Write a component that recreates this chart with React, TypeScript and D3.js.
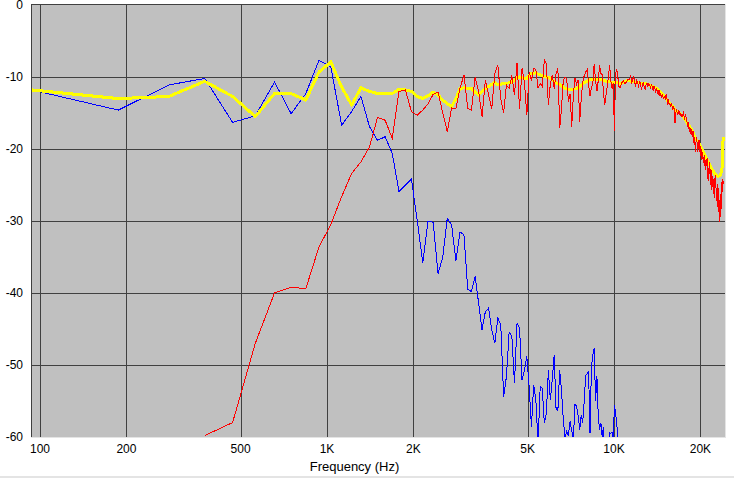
import React from "react";
import * as d3 from "d3";

// FFT bin grid (48 kHz / 512 points)
const BIN_HZ = 93.75;

// blue: bins 1..120
const BLUE_DB = [
  -11.8, -14.6, -11.1, -10.2, -16.3, -15.4, -10.7, -15.1, -12.3, -7.7,
  -8.6, -16.7, -14.8, -12.7, -16.9, -18.8, -18.3, -20.6, -25.9, -25.0,
  -24.2, -29.9, -35.8, -30.0, -30.2, -37.3, -35.0, -29.6, -30.6, -35.5,
  -31.5, -31.9, -39.5, -39.8, -37.7, -41.4, -45.1, -42.6, -42.1, -45.1,
  -47.0, -43.5, -44.4, -54.4, -51.6, -45.4, -46.0, -52.5, -44.2, -44.9,
  -52.1, -50.7, -48.8, -53.0, -58.6, -52.8, -54.9, -61.0, -53.0, -53.2,
  -58.1, -56.7, -50.7, -54.9, -52.0, -48.6, -56.0, -56.3, -50.7, -53.5,
  -57.6, -60.0, -59.2, -59.8, -57.8, -59.2, -60.2, -55.5, -55.7, -57.0,
  -59.0, -57.0, -58.0, -55.0, -51.5, -51.2, -50.9, -59.5, -50.2, -48.6,
  -47.7, -55.0, -51.6, -57.0, -59.0, -58.0, -60.0, -58.6, -62.0, -63.0,
  -62.0, -61.0, -59.4, -59.5, -59.3, -61.0, -55.6, -56.5, -58.2, -59.7,
  -62.0, -64.0, -63.0, -66.0, -64.0, -67.0, -65.0, -68.0, -66.0, -69.0,
];

// red: bins 4..256
const RED_FIRST_BIN = 4;
const RED_DB = [
  -59.8, -58, -47, -40, -39.2, -39.4, -33.6, -30.5, -26.6, -23.4,
  -21.8, -19.7, -15.6, -16.0, -18.5, -12.0, -11.8, -14.8, -15.3,
  -14.6, -13.7, -12.4, -12.1, -15.0, -17.6, -14.3, -14.4, -11.6, -9.7,
  -14.4, -14.6, -10.0, -12.0, -15.5, -10.4, -12.5, -14.4, -9.5, -8.3,
  -13.0, -15.0, -11.1, -11.6, -9.8, -12.5, -8.0, -14.4, -8.8, -10.7,
  -15.3, -9.3, -10.5, -8.8, -9.0, -11.5, -10.9, -11.3,
  -7.6, -8.1, -13.9, -11.0, -9.7, -11.6, -9.5, -8.8, -17.1, -14.4,
  -10.5, -10.0, -10.3, -13.4, -12.3, -16.9, -12.5, -10.2, -11.0, -10.4,
  -16.2, -13.0, -10.7, -9.8, -9.3, -9.0, -11.0, -12.7, -11.5, -10.9,
  -8.2, -10.5, -12.0, -10.5, -8.4, -9.5, -9.7, -12.0, -13.9, -12.5,
  -11.3, -10.0, -8.3, -10.5, -11.6, -10.8, -17.5, -9.6, -8.9, -10.0,
  -11.3, -11.5, -11.0, -10.7, -10.5, -10.9, -10.9, -10.6, -10.4, -10.4,
  -10.2, -9.8, -10.9, -10.3, -10.0, -10.8, -11.2, -10.5, -10.9, -11.3,
  -10.6, -11.0, -11.8, -11.1, -10.7, -11.4, -11.8, -11.0, -10.8, -11.3,
  -10.9, -11.1, -11.6, -11.0, -11.4, -11.9, -11.2, -11.6, -12.0, -11.5,
  -12.1, -12.4, -11.8, -12.5, -12.3, -12.9, -12.4, -12.7, -13.1, -12.6,
  -13.2, -12.4, -13.0, -13.6, -13.3, -13.9, -13.6, -14.2, -13.8, -14.1,
  -14.6, -14.0, -14.5, -16.4, -15.0, -14.6, -14.9, -15.3, -14.7, -14.8,
  -15.3, -15.0, -15.6, -15.2, -15.5, -14.8, -15.4, -15.9, -15.1, -15.5,
  -16.0, -16.4, -16.9, -16.2, -17.6, -17.0, -17.3, -18.0, -17.2, -18.3,
  -17.5, -18.6, -19.4, -18.4, -20.4, -19.0, -18.3, -19.5, -20.4, -19.2,
  -18.7, -20.4, -19.6, -20.9, -20.0, -21.5, -20.4, -21.2, -22.0, -20.8,
  -21.9, -22.9, -21.6, -22.3, -21.3, -22.8, -24.5, -22.6, -23.4, -21.8,
  -23.9, -25.0, -22.9, -25.7, -23.8, -24.6, -26.2, -24.0, -26.8, -24.5,
  -23.6, -25.9, -27.2, -24.8, -26.6, -28.7, -25.4, -27.8, -30.1, -29.2,
  -26.3, -28.4, -25.5, -24.2, -26.0, -24.5,
];

// yellow (smoothed): every bin up to 120, then sparser
const YELLOW_BINS = [
  ...d3.range(1, 121),
  125, 130, 135, 140, 145, 150, 155, 160, 165, 170, 175, 180, 185, 190,
  195, 200, 205, 210, 215, 220, 225, 230, 235, 240, 245, 250, 252, 254,
  255, 256,
];
const YELLOW_DB = [
  -11.8, -13.0, -12.7, -10.6, -12.7, -15.5, -12.3, -12.3, -13.2, -9.3,
  -7.9, -11.4, -13.9, -11.5, -12.0, -12.3, -12.3, -12.3, -11.7, -11.8,
  -12.0, -12.7,
  -13.0, -12.6, -12.1, -12.5, -13.2, -13.7, -14.1, -13.0, -11.6, -11.5,
  -11.6, -11.6, -12.1, -12.5, -12.0, -11.6, -11.3, -11.0, -10.7, -11.1,
  -11.0, -10.9, -10.9, -10.8, -10.7, -10.4, -10.1, -10.0, -10.1, -10.2,
  -10.2, -9.8, -9.5, -9.5, -9.4, -9.6, -9.7, -9.8,
  -9.9, -10.0, -10.0, -10.2, -10.4, -10.7, -10.8, -10.9, -11.0, -11.2,
  -11.4, -11.6, -11.6, -11.7, -11.8, -11.8, -11.7, -11.6, -11.6, -11.5,
  -11.3, -11.1, -10.9, -10.8, -10.7, -10.6, -10.5, -10.4, -10.3, -10.3,
  -10.3, -10.3, -10.4, -10.4, -10.4, -10.4, -10.4, -10.5, -10.5, -10.6,
  -10.6, -10.6, -10.6, -10.7, -10.7, -10.7, -10.7, -10.8, -10.8, -10.8,
  -10.9, -10.9, -10.9, -10.8, -10.7, -10.6, -10.6, -10.5, -10.5, -10.5,
  -10.7, -10.8, -10.9, -11.0, -11.3, -11.6, -12.1, -12.7, -13.4, -14.0,
  -14.6, -15.0, -15.4, -16.1, -16.8, -17.5, -18.5, -19.1, -19.9, -20.7,
  -21.5, -22.2, -22.9, -23.5, -23.8, -23.7, -23.3, -22.5, -21.0, -18.3,
];

const X_TICKS = [100, 200, 500, 1000, 2000, 5000, 10000, 20000];
const X_LABELS = ["100", "200", "500", "1K", "2K", "5K", "10K", "20K"];
const Y_TICKS = [0, -10, -20, -30, -40, -50, -60];

const WIDTH = 734;
const HEIGHT = 478;
const left = 31;
const right = 725;
const top = 4;
const bottom = 437;
const font = "Arial, 'Liberation Sans', sans-serif";

const App: React.FC = () => {
  const x = d3.scaleLog().domain([100, 10000]).range([40, 614]);
  const y = d3.scaleLinear().domain([-60, 0]).range([437, 5]);

  const line = d3
    .line<[number, number]>()
    .x((d) => x(d[0]))
    .y((d) => y(d[1]));

  const blue = BLUE_DB.map((v, i) => [(i + 1) * BIN_HZ, v] as [number, number]);
  const red = RED_DB.map(
    (v, i) => [(i + RED_FIRST_BIN) * BIN_HZ, v] as [number, number]
  );
  const yellow = YELLOW_DB.map(
    (v, i) => [YELLOW_BINS[i] * BIN_HZ, v] as [number, number]
  );

  return (
    <svg
      width={WIDTH}
      height={HEIGHT}
      style={{ position: "absolute", left: 0, top: 0, background: "#fff" }}
    >
      <defs>
        <clipPath id="plot">
          <rect x={left} y={top} width={right - left} height={bottom - top} />
        </clipPath>
      </defs>
      <rect x={left} y={top} width={right - left} height={bottom - top} fill="#c0c0c0" />

      <g stroke="#404040" strokeWidth={1} shapeRendering="crispEdges">
        {Y_TICKS.slice(1, -1).map((t) => (
          <line key={t} x1={left} x2={right} y1={Math.round(y(t)) + 0.5} y2={Math.round(y(t)) + 0.5} />
        ))}
        {X_TICKS.map((t) => (
          <line key={t} x1={Math.round(x(t)) + 0.5} x2={Math.round(x(t)) + 0.5} y1={top} y2={bottom} />
        ))}
      </g>

      <g clipPath="url(#plot)" fill="none" shapeRendering="crispEdges">
        <path d={line(blue) ?? ""} stroke="#0000ff" strokeWidth={1} />
        <path d={line(yellow) ?? ""} stroke="#ffff00" strokeWidth={3} strokeLinejoin="round" />
        <path d={line(red) ?? ""} stroke="#ff0000" strokeWidth={1} />
      </g>

      {/* sunken frame */}
      <g shapeRendering="crispEdges">
        <line x1={left} x2={right} y1={top + 0.5} y2={top + 0.5} stroke="#404040" />
        <line x1={left + 0.5} x2={left + 0.5} y1={top} y2={bottom} stroke="#404040" />
        <line x1={left} x2={right + 1} y1={bottom + 0.5} y2={bottom + 0.5} stroke="#e4e4e4" />
        <line x1={right + 0.5} x2={right + 0.5} y1={top} y2={bottom} stroke="#e4e4e4" />
      </g>

      <g fontFamily={font} fontSize={12} fill="#000">
        {Y_TICKS.map((t) => (
          <text key={t} x={23} y={y(t)} dy="0.36em" textAnchor="end">
            {t}
          </text>
        ))}
        {X_TICKS.map((t, i) => (
          <text key={t} x={x(t)} y={453} textAnchor="middle">
            {X_LABELS[i]}
          </text>
        ))}
      </g>
      <text x={354.5} y={471} fontFamily={font} fontSize={13} textAnchor="middle">
        Frequency (Hz)
      </text>
      <rect x={0} y={476} width={WIDTH} height={2} fill="#e4e4e4" />
    </svg>
  );
};

export default App;
